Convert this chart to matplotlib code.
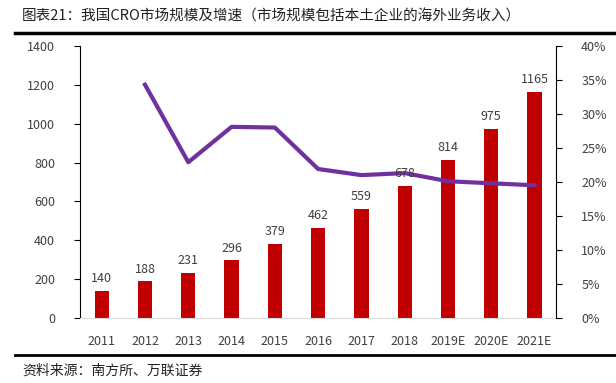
import matplotlib.pyplot as plt
import numpy as np
from matplotlib.lines import Line2D
from matplotlib.ticker import FuncFormatter

plt.rcParams['font.family'] = ['Noto Sans CJK SC', 'DejaVu Sans']

years = ['2011', '2012', '2013', '2014', '2015', '2016', '2017', '2018', '2019E', '2020E', '2021E']
market_size = [140, 188, 231, 296, 379, 462, 559, 678, 814, 975, 1165]
growth = [None, 34.3, 22.9, 28.1, 28.0, 21.9, 21.0, 21.3, 20.1, 19.8, 19.5]

fig = plt.figure(figsize=(6.16, 3.83), dpi=100)
ax = fig.add_axes([0.130, 0.170, 0.773, 0.710])
x = np.arange(len(years))

ax.bar(x, market_size, width=0.33, color='#C00000', zorder=2)

ax.set_ylim(0, 1400)
ax.set_yticks(range(0, 1401, 200))
ax.set_xlim(-0.5, len(years) - 0.5)
ax.set_xticks(x)
ax.set_xticklabels(years)
ax.tick_params(axis='x', length=0, pad=12, labelsize=9, labelcolor='#404040')
ax.tick_params(axis='y', direction='out', length=4, labelsize=9, labelcolor='#404040', pad=14)
ax.spines['top'].set_visible(False)
ax.spines['right'].set_visible(False)
ax.spines['bottom'].set_color('#d9d9d9')

ax2 = ax.twinx()
gx = [xi for xi, g in zip(x, growth) if g is not None]
gy = [g for g in growth if g is not None]
ax2.plot(gx, gy, color='#7030A0', lw=3, zorder=3)
ax2.set_ylim(0, 40)
ax2.set_yticks(range(0, 41, 5))
ax2.yaxis.set_major_formatter(FuncFormatter(lambda v, p: f'{v:.0f}%'))
ax2.tick_params(axis='y', direction='out', length=4, labelsize=9, labelcolor='#404040', pad=14)
for s in ['top', 'left', 'bottom']:
    ax2.spines[s].set_visible(False)

# bar value labels sit on top of the growth line
for xi, v in zip(x, market_size):
    ax2.text(xi, v + 30, str(v), transform=ax.transData, ha='center', va='bottom',
             fontsize=9, color='#404040', zorder=5)

fig.text(0.036, 0.958, '图表21：我国CRO市场规模及增速（市场规模包括本土企业的海外业务收入）',
         fontsize=10.5, ha='left', va='center', color='#222222')
fig.add_artist(Line2D([0.025, 1.0], [0.914, 0.914], color='black', lw=2.5))
fig.add_artist(Line2D([0.025, 1.0], [0.073, 0.073], color='black', lw=2))
fig.text(0.036, 0.033, '资料来源：南方所、万联证券', fontsize=10, ha='left', va='center',
         style='italic', color='#222222')

fig.savefig('out.png', dpi=100)
